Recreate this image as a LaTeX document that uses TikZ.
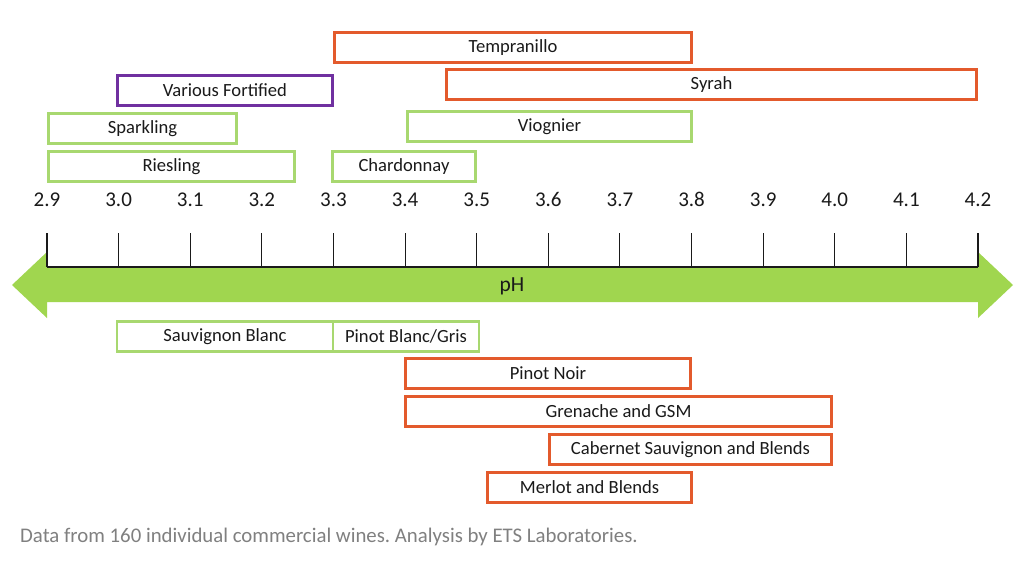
\documentclass[tikz,border=0pt]{standalone}
\usepackage{fontspec}
\setmainfont{Carlito}
\frenchspacing
\definecolor{whitegreen}{HTML}{A8D870}
\definecolor{redorange}{HTML}{E35A2C}
\definecolor{fortpurple}{HTML}{7030A0}
\definecolor{bandgreen}{HTML}{A0D64F}
\definecolor{inkgray}{HTML}{1A1A1A}
\definecolor{notegray}{HTML}{808080}
\tikzset{
  winebox/.style={draw, line width=2.8pt, rectangle, inner sep=0pt, outer sep=0pt,
    anchor=north west, minimum height=30pt, text=inkgray,
    font=\fontsize{18.6}{21}\selectfont},
  whitewine/.style={winebox, draw=whitegreen},
  redwine/.style={winebox, draw=redorange},
  fortwine/.style={winebox, draw=fortpurple},
  ticklabel/.style={text=inkgray, anchor=base, inner sep=0pt,
    font=\fontsize{21}{23}\selectfont},
  tickline/.style={draw=inkgray, line width=1.1pt}
}
\begin{document}
\begin{tikzpicture}[x=1pt,y=-1pt]
\useasboundingbox (0,0) rectangle (1017,563);
\fill[white] (0,0) rectangle (1017,563);

% pH arrow band
\fill[bandgreen] (12,285) -- (47,252) -- (47,267) -- (978,267) -- (978,252)
  -- (1013,285) -- (978,318) -- (978,302) -- (47,302) -- (47,318) -- cycle;
\node[text=inkgray, font=\fontsize{21.5}{23}\selectfont] (ph) at (512,286) {pH};

% scale: ticks and labels
\draw[tickline] (47,267) -- (978,267);
\foreach \i/\lab in {0/2.9,1/3.0,2/3.1,3/3.2,4/3.3,5/3.4,6/3.5,7/3.6,8/3.7,9/3.8,10/3.9,11/4.0,12/4.1,13/4.2}{
  \draw[tickline] ({47+\i*71.615},233) -- ({47+\i*71.615},267);
  \node[ticklabel] (t\i) at ({47+\i*71.615},206.5) {\lab};
}

% ranges above the scale
\node[redwine, minimum width=357pt] (tempranillo) at (334.5,32.5) {Tempranillo};
\node[fortwine, minimum width=215pt] (fortified) at (117.5,75.5) {Various Fortified};
\node[redwine, minimum width=530pt] (syrah) at (446.5,69.5) {Syrah};
\node[whitewine, minimum width=188pt] (sparkling) at (48.5,113.5) {Sparkling};
\node[whitewine, minimum width=284pt] (viognier) at (407.5,111.5) {Viognier};
\node[whitewine, minimum width=246pt] (riesling) at (48.5,151.5) {Riesling};
\node[whitewine, minimum width=143pt] (chardonnay) at (332.5,151.5) {Chardonnay};

% ranges below the scale
\node[whitewine, minimum width=216pt] (sauvblanc) at (117,321.5) {Sauvignon Blanc};
\node[whitewine, minimum width=146pt] (pinotblanc) at (333,321.5) {Pinot Blanc/Gris};
\node[redwine, minimum width=285pt] (pinotnoir) at (405.5,358.5) {Pinot Noir};
\node[redwine, minimum width=426pt] (grenache) at (405.5,396.5) {Grenache and GSM};
\node[redwine, minimum width=282pt] (cabernet) at (549.5,434.5) {Cabernet Sauvignon and Blends};
\node[redwine, minimum width=204pt] (merlot) at (487.5,472.5) {Merlot and Blends};

% source note
\node[anchor=west, inner sep=0pt, text=notegray, font=\fontsize{20.8}{23}\selectfont] (note) at (20,537) {Data from 160 individual commercial wines. Analysis by ETS Laboratories.};
\end{tikzpicture}
\end{document}
